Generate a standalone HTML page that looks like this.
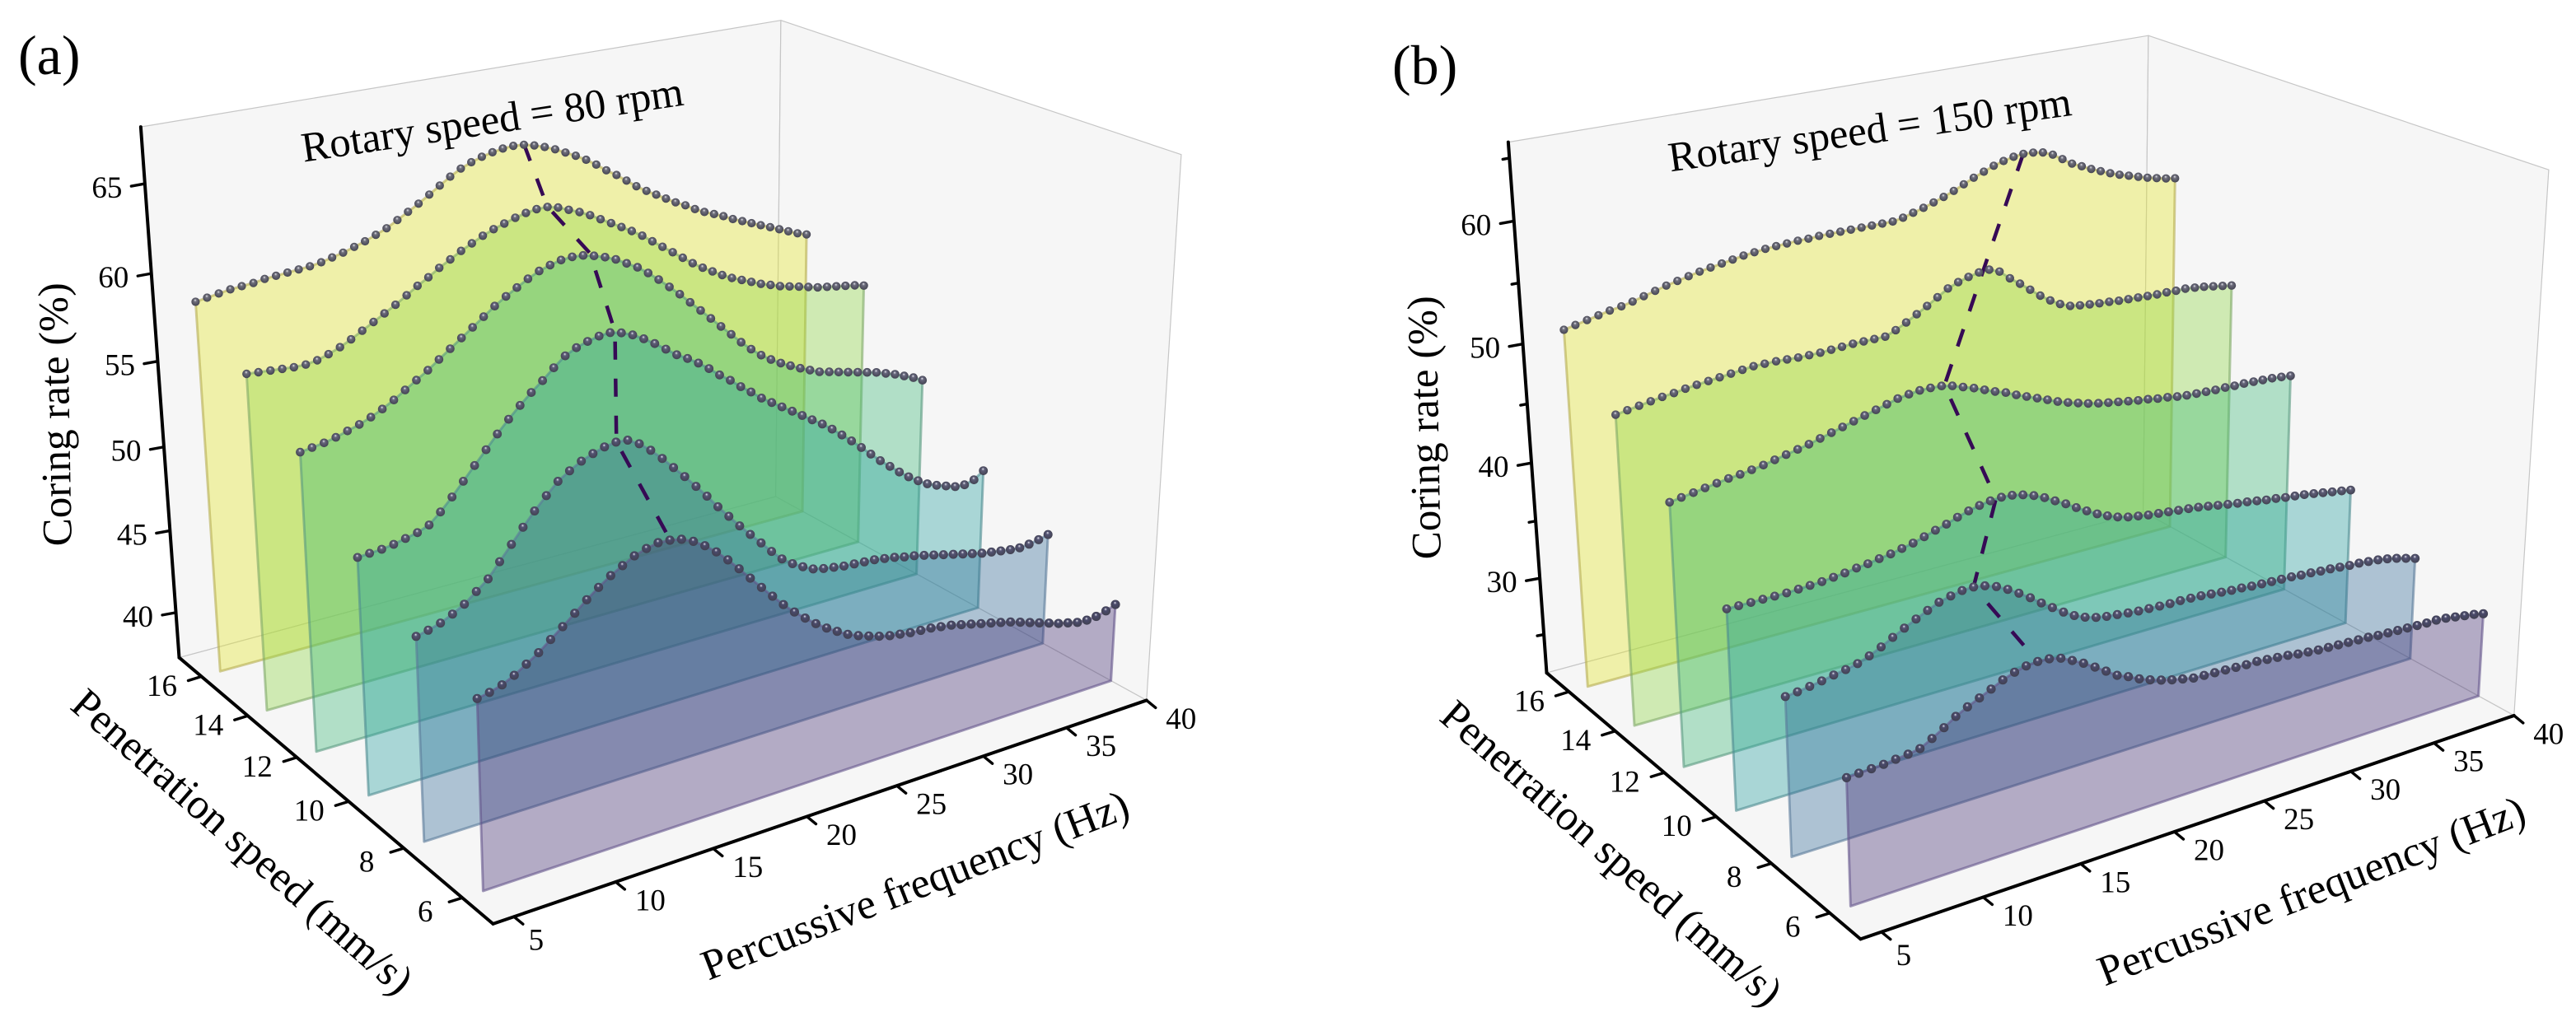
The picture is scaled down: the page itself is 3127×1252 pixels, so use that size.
<!DOCTYPE html>
<html lang="en">
<head>
<meta charset="utf-8">
<title>Coring rate ridge charts</title>
<style>
html,body{margin:0;padding:0;background:#fff;}
svg{display:block;}
text{font-family:"Liberation Serif","Times New Roman",serif;fill:#000;}
</style>
</head>
<body>
<svg id="figure" xmlns="http://www.w3.org/2000/svg" width="3127" height="1252" viewBox="0 0 3127 1252">
  <defs id="defs"></defs>
  <g id="panel-a"></g>
  <g id="panel-b"></g>
  <text x="22" y="90" font-size="68">(a)</text>
  <text x="1690" y="102" font-size="68">(b)</text>
  <text text-anchor="middle" font-size="51" transform="translate(600,162) rotate(-8.5)">Rotary speed = 80 rpm</text>
  <text text-anchor="middle" font-size="51" transform="translate(2272,174) rotate(-8)">Rotary speed = 150 rpm</text>
  <text text-anchor="middle" font-size="51" transform="translate(84,503) rotate(-91)">Coring rate (%)</text>
  <text text-anchor="middle" font-size="51" transform="translate(1746,519) rotate(-91)">Coring rate (%)</text>
  <text text-anchor="middle" font-size="52" transform="translate(283,1035) rotate(41.3)">Penetration speed (mm/s)</text>
  <text text-anchor="middle" font-size="52" transform="translate(1945,1049) rotate(41.3)">Penetration speed (mm/s)</text>
  <text text-anchor="middle" font-size="52" transform="translate(1117,1091) rotate(-21.2)">Percussive frequency (Hz)</text>
  <text text-anchor="middle" font-size="52" transform="translate(2812,1098) rotate(-21.2)">Percussive frequency (Hz)</text>
</svg>
<script>
// ---------- data ----------
const frequencies = [5.00,5.59,6.19,6.78,7.37,7.97,8.56,9.15,9.75,10.34,10.93,11.53,12.12,12.71,13.31,13.90,14.49,15.08,15.68,16.27,16.86,17.46,18.05,18.64,19.24,19.83,20.42,21.02,21.61,22.20,22.80,23.39,23.98,24.58,25.17,25.76,26.36,26.95,27.54,28.14,28.73,29.32,29.92,30.51,31.10,31.69,32.29,32.88,33.47,34.07,34.66,35.25,35.85,36.44,37.03,37.63,38.22,38.81,39.41,40.00];
const penetrationSpeeds = [16,14,12,10,8,6];
const xTickValues = [5,10,15,20,25,30,35,40];
const yTickValues = [6,8,10,12,14,16];
const zTicksA = [40,45,50,55,60,65];
const zMinorTicksA = [];
const zTicksB = [30,40,50,60];
const zMinorTicksB = [25,35,45,55,65];

const ratesA16 = [59.0,59.1,59.2,59.3,59.35,59.4,59.5,59.55,59.6,59.65,59.7,59.8,59.95,60.1,60.3,60.5,60.75,61.0,61.35,61.7,62.05,62.45,62.85,63.25,63.6,63.85,64.05,64.2,64.3,64.35,64.3,64.15,63.95,63.7,63.4,63.1,62.75,62.35,61.9,61.5,61.05,60.6,60.2,59.85,59.5,59.15,58.85,58.5,58.2,57.95,57.7,57.4,57.15,56.9,56.65,56.4,56.15,55.9,55.65,55.45];
const ratesA14 = [56.7,56.65,56.6,56.55,56.5,56.5,56.6,56.8,57.05,57.35,57.7,58.05,58.4,58.75,59.15,59.55,59.9,60.3,60.65,61.0,61.3,61.6,61.85,62.05,62.25,62.4,62.5,62.5,62.35,62.1,61.85,61.55,61.2,60.85,60.5,60.15,59.75,59.3,58.85,58.4,57.95,57.5,57.1,56.75,56.4,56.1,55.85,55.6,55.35,55.15,54.95,54.8,54.65,54.5,54.35,54.25,54.15,54.05,53.95,53.8];
const ratesA12 = [54.25,54.35,54.45,54.6,54.8,55.0,55.25,55.55,55.9,56.3,56.7,57.1,57.55,58.0,58.45,58.9,59.35,59.8,60.2,60.55,60.9,61.2,61.4,61.55,61.6,61.55,61.4,61.2,60.95,60.6,60.25,59.8,59.3,58.75,58.2,57.6,57.0,56.4,55.8,55.2,54.6,54.05,53.55,53.15,52.8,52.5,52.2,51.95,51.7,51.55,51.4,51.25,51.1,50.95,50.8,50.6,50.4,50.15,49.9,49.6];
const ratesA10 = [50.55,50.6,50.65,50.75,50.9,51.05,51.3,51.85,52.5,53.2,53.9,54.6,55.3,55.95,56.55,57.1,57.6,58.15,58.65,58.95,59.15,59.3,59.35,59.2,58.95,58.6,58.2,57.75,57.3,56.95,56.55,56.1,55.6,55.15,54.65,54.2,53.7,53.3,52.9,52.5,52.1,51.7,51.3,50.85,50.35,49.85,49.3,48.75,48.2,47.7,47.2,46.75,46.35,46.0,45.75,45.55,45.35,45.3,45.45,45.85];
const ratesA8 = [48.5,48.65,48.85,49.15,49.5,50.0,50.5,51.25,52.0,52.75,53.45,54.1,54.7,55.1,55.45,55.7,55.9,56.0,55.95,55.6,55.1,54.5,53.85,53.2,52.5,51.8,51.05,50.35,49.65,49.0,48.35,47.7,47.1,46.65,46.3,46.0,45.85,45.75,45.65,45.6,45.55,45.5,45.4,45.3,45.15,45.05,44.9,44.75,44.6,44.45,44.3,44.15,44.0,43.9,43.8,43.7,43.65,43.7,43.8,43.95];
const ratesA6 = [47.56,47.69,47.89,48.2,48.6,49.01,49.52,50.01,50.53,51.06,51.53,51.97,52.32,52.66,52.87,53.01,52.97,52.85,52.57,52.17,51.67,51.07,50.42,49.74,49.06,48.4,47.76,47.17,46.65,46.16,45.73,45.36,45.01,44.75,44.55,44.35,44.2,44.1,44.0,43.95,43.9,43.8,43.7,43.55,43.4,43.25,43.1,42.95,42.8,42.6,42.4,42.2,42.0,41.8,41.65,41.5,41.45,41.5,41.65,41.85];

const ratesB16 = [52.05,52.25,52.45,52.65,52.85,53.0,53.2,53.45,53.7,53.95,54.15,54.35,54.55,54.7,54.85,55.0,55.15,55.25,55.35,55.4,55.45,55.5,55.5,55.55,55.55,55.55,55.55,55.55,55.55,55.55,55.55,55.7,55.95,56.2,56.5,56.8,57.15,57.55,57.95,58.3,58.65,58.9,59.1,59.2,59.15,59.0,58.65,58.1,57.55,57.15,56.75,56.4,56.05,55.75,55.5,55.25,55.0,54.8,54.6,54.45];
const ratesB14 = [47.7,47.85,48.0,48.15,48.3,48.4,48.55,48.65,48.75,48.85,48.95,49.05,49.15,49.15,49.15,49.1,49.05,49.05,49.05,49.1,49.15,49.2,49.2,49.2,49.2,49.55,50.0,50.5,51.0,51.55,52.1,52.45,52.7,52.9,52.95,52.6,51.85,51.2,50.5,49.8,49.2,48.7,48.35,48.2,48.1,48.0,47.95,47.85,47.8,47.75,47.7,47.65,47.65,47.6,47.6,47.5,47.4,47.25,47.1,46.95];
const ratesB12 = [43.45,43.6,43.75,43.9,44.05,44.2,44.3,44.45,44.6,44.8,45.0,45.2,45.4,45.65,45.9,46.15,46.4,46.65,46.9,47.15,47.4,47.55,47.65,47.65,47.6,47.4,47.1,46.8,46.45,46.1,45.8,45.4,45.05,44.7,44.35,44.0,43.7,43.45,43.2,43.0,42.85,42.7,42.55,42.4,42.3,42.15,42.05,41.9,41.8,41.75,41.7,41.65,41.65,41.6,41.6,41.55,41.5,41.45,41.35,41.25];
const ratesB10 = [38.0,38.0,38.0,38.0,38.0,38.0,38.05,38.1,38.15,38.25,38.35,38.5,38.6,38.77,38.9,39.1,39.3,39.58,39.87,40.13,40.46,40.74,40.95,41.1,41.16,41.09,40.9,40.6,40.2,39.7,39.22,38.67,38.16,37.67,37.27,36.94,36.7,36.55,36.4,36.3,36.2,36.1,36.0,35.9,35.75,35.6,35.45,35.3,35.2,35.05,34.9,34.8,34.65,34.55,34.45,34.3,34.15,34.0,33.85,33.7];
const ratesB8 = [34.4,34.5,34.65,34.8,35.0,35.15,35.35,35.7,36.14,36.63,37.1,37.56,37.98,38.38,38.62,38.8,38.83,38.67,38.36,37.88,37.32,36.7,36.02,35.39,34.76,34.22,33.83,33.55,33.38,33.27,33.15,33.05,33.0,32.95,32.9,32.9,32.85,32.8,32.7,32.6,32.5,32.45,32.35,32.3,32.25,32.2,32.15,32.05,32.0,31.9,31.85,31.75,31.65,31.6,31.5,31.4,31.25,31.05,30.8,30.55];
const ratesB6 = [31.65,31.7,31.75,31.8,31.9,32.0,32.15,32.65,33.2,33.8,34.27,34.68,35.1,35.54,35.87,36.09,36.17,36.12,35.89,35.44,34.96,34.38,33.79,33.18,32.8,32.35,32.0,31.7,31.45,31.25,31.05,31.0,30.95,30.9,30.85,30.8,30.8,30.7,30.6,30.5,30.35,30.25,30.15,30.1,30.05,30.0,29.95,29.9,29.8,29.75,29.7,29.65,29.6,29.55,29.55,29.45,29.3,29.15,29.0,28.8];

const peakFreqA = [22.8,21.0,20.2,18.3,15.1,14.5];
const peakRateA = [64.35,62.55,61.6,59.35,56.0,53.0];
const peakFreqB = [30.5,24.8,19.4,18.94,14.49,14.49];
const peakRateB = [59.2,52.9,47.6,41.15,38.83,36.17];

// ---------- styles ----------
const planeColors = ['#e4e725','#8dd540','#3bb877','#25a0a0','#306998','#412b72'];
const edgeColors = ['#b5ad50','#7fa868','#5a9a80','#4c8a90','#5a7a9a','#62548a'];
const dotColors = ['#70707c','#6c6c7c','#66667c','#5e5e78','#545474','#4a4a6c'];

// ---------- camera ----------
const cam = {ox:602.5,oy:1405,ex:1009.5,ey:-175,vx:-338.5,vy:-213,zx:-70,zy:-977.9,a:0.1549,b:0.1919,c:-0.0825};
const fRange = [4,40];
const pRange = [5,17];

const NS = 'http://www.w3.org/2000/svg';
function mk(tag, attrs, parent){
  const el = document.createElementNS(NS, tag);
  for (const k in attrs) el.setAttribute(k, attrs[k]);
  if (parent) parent.appendChild(el);
  return el;
}

function makeProject(zMin, zMax, dx, dy){
  return function(f, p, z){
    const u = (f - fRange[0]) / (fRange[1] - fRange[0]);
    const v = (p - pRange[0]) / (pRange[1] - pRange[0]);
    const w = (z - zMin) / (zMax - zMin);
    const d = 1 + cam.a*u + cam.b*v + cam.c*w;
    const X = (cam.ox + cam.ex*u + cam.vx*v + cam.zx*w) / d;
    const Y = (cam.oy + cam.ey*u + cam.vy*v + cam.zy*w) / d;
    return [X - 4 + dx, Y*0.7985 + dy];
  };
}
function pts(list){ return list.map(q => q[0].toFixed(1)+','+q[1].toFixed(1)).join(' '); }

const defs = document.getElementById('defs');
dotColors.forEach(function(c, i){
  const g = mk('radialGradient', {id:'dot-'+i, cx:'0.5', cy:'0.5', r:'0.55', fx:'0.45', fy:'0.28'}, defs);
  mk('stop', {offset:'0', 'stop-color':'#eeeef4'}, g);
  mk('stop', {offset:'0.3', 'stop-color':c}, g);
  mk('stop', {offset:'1', 'stop-color':'#40404e'}, g);
});

function drawPanel(cfg){
  const root = document.getElementById(cfg.id);
  const P = makeProject(cfg.zMin, cfg.zMax, cfg.dx, cfg.dy);
  const fa = fRange[0], fb = fRange[1], pa = pRange[0], pb = pRange[1], za = cfg.zMin, zb = cfg.zMax;

  // panes
  const paneStyle = {fill:'#f6f6f6', stroke:'#c6c6c6', 'stroke-width':'1.2', 'stroke-linejoin':'round'};
  const panes = [
    ['left-wall', [P(fa,pb,za),P(fb,pb,za),P(fb,pb,zb),P(fa,pb,zb)]],
    ['right-wall', [P(fb,pa,za),P(fb,pb,za),P(fb,pb,zb),P(fb,pa,zb)]],
    ['floor', [P(fa,pa,za),P(fb,pa,za),P(fb,pb,za),P(fa,pb,za)]]
  ];
  panes.forEach(function(item){
    const poly = mk('polygon', Object.assign({points:pts(item[1])}, paneStyle), root);
    
    
  });

  // axis lines
  const axes = [
    ['x-axis-line', P(fa,pa,za), P(fb,pa,za)],
    ['y-axis-line', P(fa,pa,za), P(fa,pb,za)],
    ['z-axis-line', P(fa,pb,za), P(fa,pb,zb)]
  ];
  axes.forEach(function(a){
    const l = mk('line', {x1:a[1][0],y1:a[1][1],x2:a[2][0],y2:a[2][1],stroke:'#000','stroke-width':'4','stroke-linecap':'round'}, root);
    
    
  });

  function tick(pos, tx, ty, name){
    const t = mk('line', {x1:pos[0],y1:pos[1],x2:pos[0]+tx,y2:pos[1]+ty,stroke:'#000','stroke-width':'3.4','stroke-linecap':'round'}, root);
    
    
  }
  function label(pos, ox, oy, str, name){
    const t = mk('text', {x:pos[0]+ox,y:pos[1]+oy,'font-size':'37','text-anchor':'middle','dominant-baseline':'central'}, root);
    t.textContent = str;
    
    
  }
  xTickValues.forEach(function(v){
    const q = P(v,pa,za);
    tick(q, 11, 9, 'x-tick-'+v);
    const n = String(v).length;
    label(q, n > 1 ? 42 : 27, n > 1 ? 23 : 29, String(v), 'x-tick-label-'+v);
  });
  yTickValues.forEach(function(v){
    const q = P(fa,v,za);
    tick(q, -16, 5, 'y-tick-'+v);
    label(q, String(v).length > 1 ? -48 : -45, String(v).length > 1 ? 12 : 17, String(v), 'y-tick-label-'+v);
  });
  cfg.zTicks.forEach(function(v){
    const q = P(fa,pb,v);
    tick(q, -16.5, 3, 'z-tick-'+v);
    label(q, -46, 5.5, String(v), 'z-tick-label-'+v);
  });
  cfg.zMinor.forEach(function(v){
    const q = P(fa,pb,v);
    tick(q, -8, 1.5, 'z-minor-tick-'+v);
  });

  // ridge planes, back to front
  penetrationSpeeds.forEach(function(speed, k){
    const rates = cfg.series[k];
    const line = frequencies.map(function(f, i){ return P(f, speed, rates[i]); });
    const outline = line.concat([P(frequencies[frequencies.length-1], speed, za), P(frequencies[0], speed, za)]);
    const poly = mk('polygon', {points:pts(outline), fill:planeColors[k], 'fill-opacity':'0.367', stroke:edgeColors[k], 'stroke-opacity':'0.6', 'stroke-width':'3', 'stroke-linejoin':'round'}, root);
    
    
  });

  // peak line
  const peakPts = penetrationSpeeds.map(function(speed, k){ return P(cfg.peakFreq[k], speed, cfg.peakRate[k]); });
  const dash = mk('polyline', {points:pts(peakPts), fill:'none', stroke:'#360a55', 'stroke-width':'4.5', 'stroke-dasharray':'22 23'}, root);
  
  

  // dots
  penetrationSpeeds.forEach(function(speed, k){
    const rates = cfg.series[k];
    const group = mk('g', {}, root);
    
    
    frequencies.forEach(function(f, i){
      const q = P(f, speed, rates[i]);
      const c = mk('circle', {cx:q[0].toFixed(1), cy:q[1].toFixed(1), r:(5.1 + k*0.1).toFixed(2), fill:'url(#dot-'+k+')'}, group);
      
      
    });
  });
}

drawPanel({id:'panel-a', zMin:37.2, zMax:68.1, dx:0, dy:0, zTicks:zTicksA, zMinor:zMinorTicksA,
  series:[ratesA16,ratesA14,ratesA12,ratesA10,ratesA8,ratesA6], peakFreq:peakFreqA, peakRate:peakRateA});
drawPanel({id:'panel-b', zMin:21.55, zMax:66.25, dx:1660, dy:18.5, zTicks:zTicksB, zMinor:zMinorTicksB,
  series:[ratesB16,ratesB14,ratesB12,ratesB10,ratesB8,ratesB6], peakFreq:peakFreqB, peakRate:peakRateB});
</script>
</body>
</html>
